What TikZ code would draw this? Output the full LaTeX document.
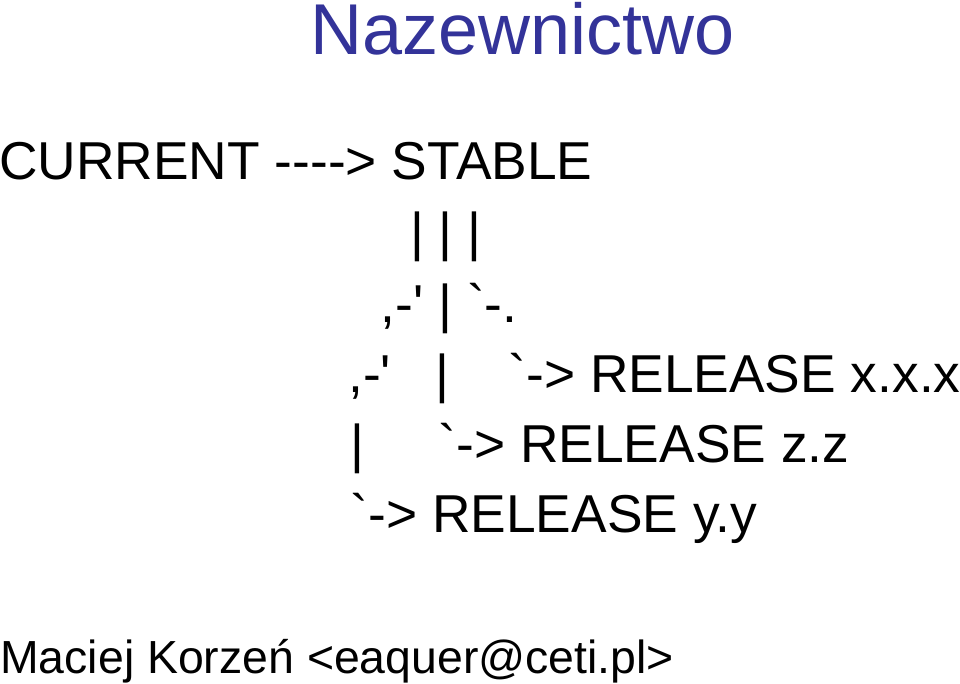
\documentclass[tikz,border=0pt]{standalone}
\usepackage{fontspec}
\usepackage{xcolor}
\newfontfamily\slidefont{Liberation Sans}
\definecolor{titleblue}{HTML}{333399}
\tikzset{
  txt/.style={anchor=base west, inner sep=0pt, font=\slidefont\frenchspacing\fontsize{40}{40}\selectfont},
  headline/.style={txt, text=titleblue, font=\slidefont\fontsize{54}{54}\selectfont},
  footline/.style={txt, font=\slidefont\frenchspacing\fontsize{34.8}{34.8}\selectfont}
}
\begin{document}
\begin{tikzpicture}[x=0.75pt,y=-0.75pt]
	\useasboundingbox (0,0) rectangle (960,684);
	\node[headline] (title) at (310,55) {Nazewnictwo};

	\node[txt] (current) at (-1,180) {CURRENT ----> STABLE};
	\node[txt] (bars)    at (410,251) {| | |};
	\node[txt] (split)   at (380.5,322) {,-' | `-.};
	\node[txt] (relx)    at (348,392) {,-'\ \ \ |\ \ \ \ `-> RELEASE x.x.x};
	\node[txt] (relz)    at (350.5,462) {|\ \ \ \ \ `-> RELEASE z.z};
	\node[txt] (rely)    at (350.5,532) {`-> RELEASE y.y};

	\node[footline] (author) at (0,673) {Maciej Korzeń <eaquer@ceti.pl>};
\end{tikzpicture}
\end{document}
